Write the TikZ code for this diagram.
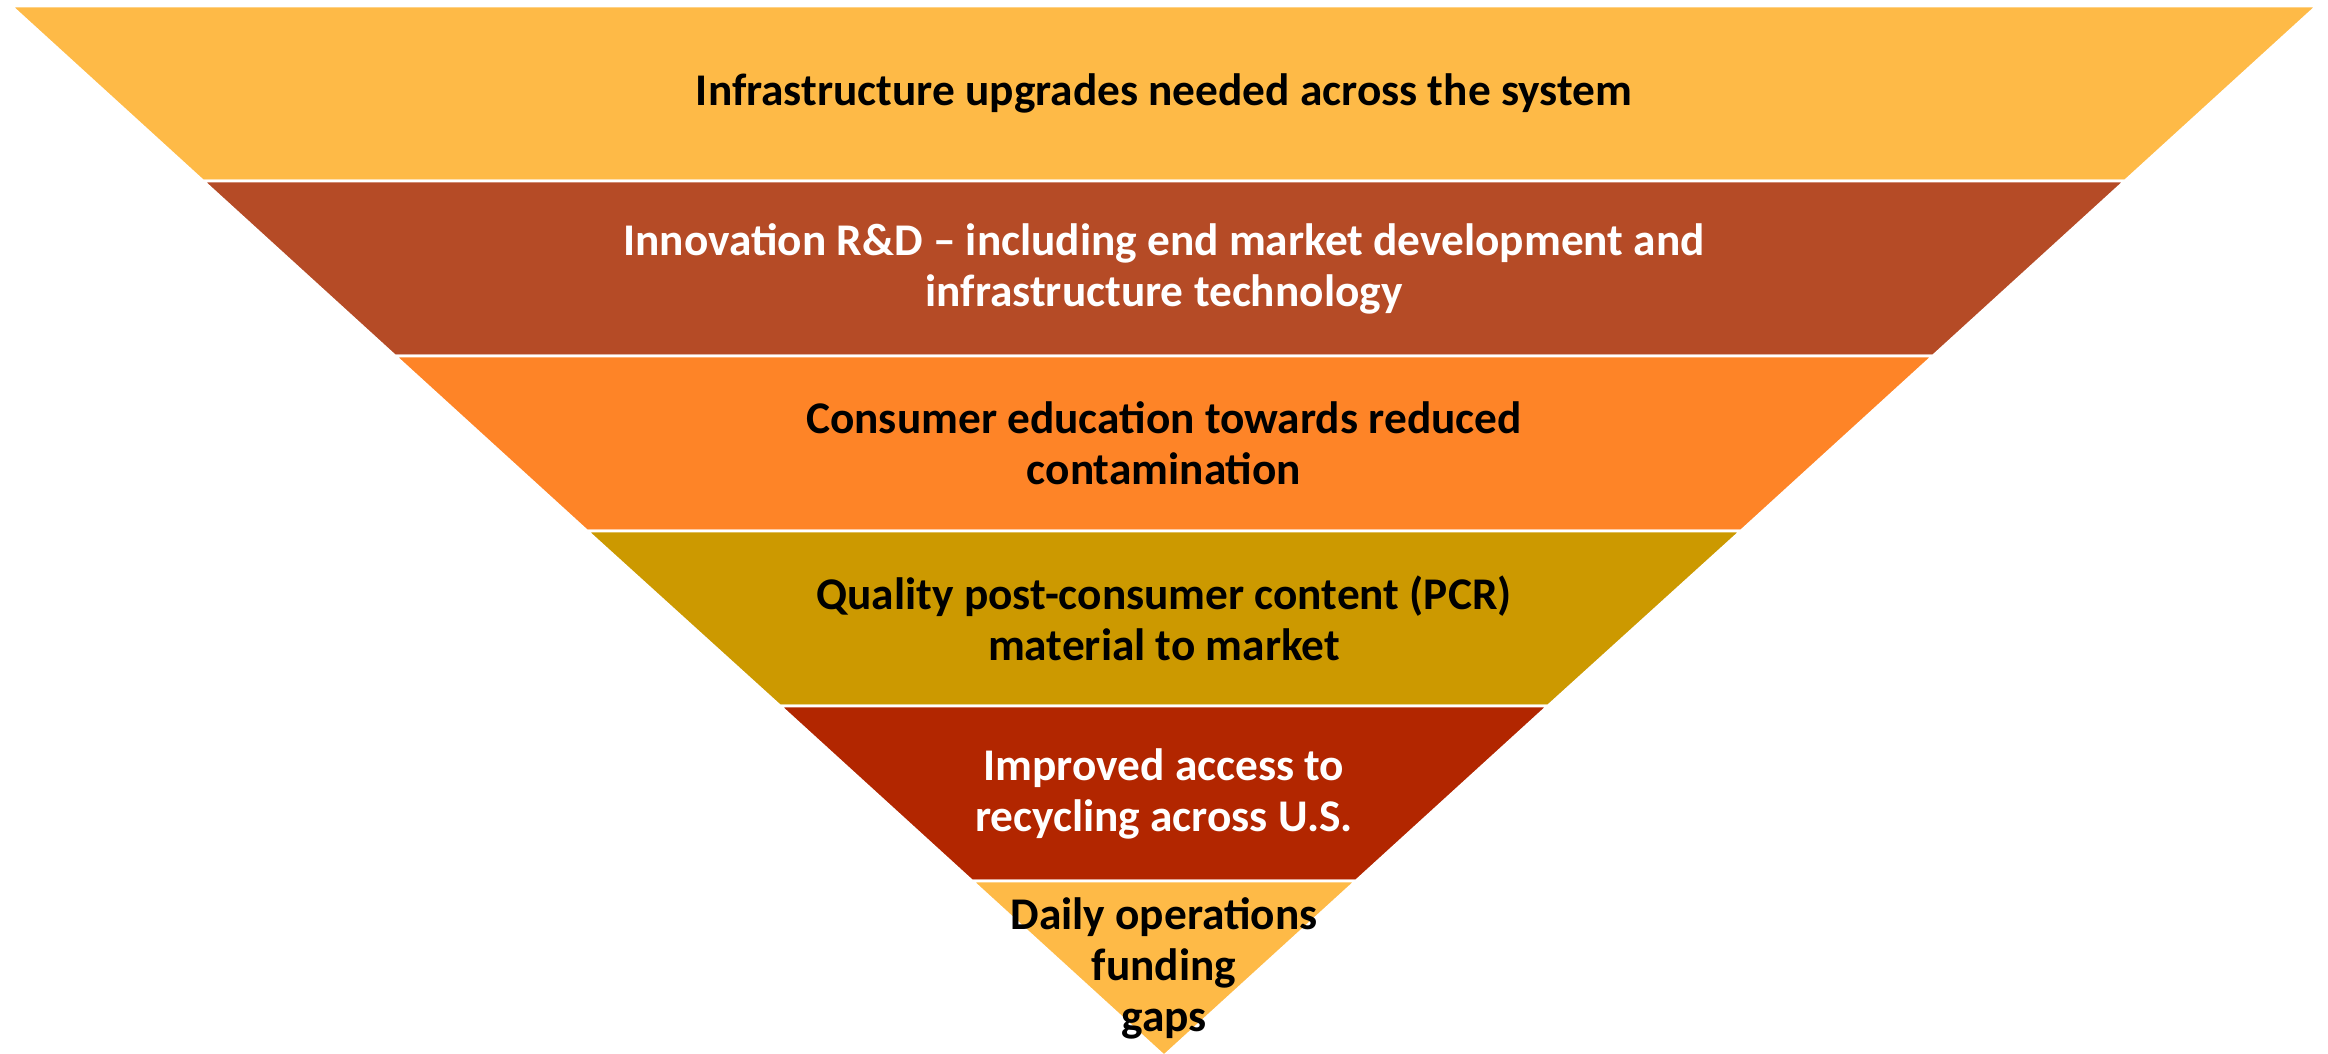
\documentclass[tikz,border=0pt]{standalone}
\usepackage{fontspec}
\setmainfont{Carlito}
\usepackage{xcolor}
\usepackage{tikz}

\definecolor{tierA}{HTML}{FEBA47}
\definecolor{tierB}{HTML}{B54B26}
\definecolor{tierC}{HTML}{FE8427}
\definecolor{tierD}{HTML}{CC9900}
\definecolor{tierE}{HTML}{B22600}

\begin{document}
\begin{tikzpicture}[
  band/.style={draw=white, line width=0.8pt, line join=miter},
  lbl/.style={align=center, font=\fontsize{12.9}{14.5}\selectfont\bfseries, inner sep=0pt},
  dark/.style={lbl, text=black},
  light/.style={lbl, text=white}]
  \useasboundingbox (0,0) rectangle (23.28,-10.54);
  % funnel tiers, widest on top
  \filldraw[band, fill=tierA] (0.11,-0.06) -- (23.17,-0.06) -- (21.25,-1.81) -- (2.03,-1.81) -- cycle;
  \filldraw[band, fill=tierB] (2.03,-1.81) -- (21.25,-1.81) -- (19.33,-3.56) -- (3.95,-3.56) -- cycle;
  \filldraw[band, fill=tierC] (3.95,-3.56) -- (19.33,-3.56) -- (17.41,-5.31) -- (5.87,-5.31) -- cycle;
  \filldraw[band, fill=tierD] (5.87,-5.31) -- (17.41,-5.31) -- (15.48,-7.06) -- (7.80,-7.06) -- cycle;
  \filldraw[band, fill=tierE] (7.80,-7.06) -- (15.48,-7.06) -- (13.56,-8.81) -- (9.72,-8.81) -- cycle;
  \filldraw[band, fill=tierA] (9.72,-8.81) -- (13.56,-8.81) -- (11.64,-10.56) -- cycle;
  % labels
  \node[dark] (infra) at (11.64,-0.935) {Infrastructure upgrades needed across the system};
  \node[light] (innov) at (11.64,-2.685) {Innovation R\&D – including end market development and\\infrastructure technology};
  \node[dark] (educ) at (11.64,-4.435) {Consumer education towards reduced\\contamination};
  \node[dark] (pcr) at (11.64,-6.185) {Quality post-consumer content (PCR)\\material to market};
  \node[light] (access) at (11.64,-7.935) {Improved access to\\recycling across U.S.};
  \node[dark] (ops) at (11.64,-9.685) {Daily operations\\funding\\gaps};
\end{tikzpicture}
\end{document}
